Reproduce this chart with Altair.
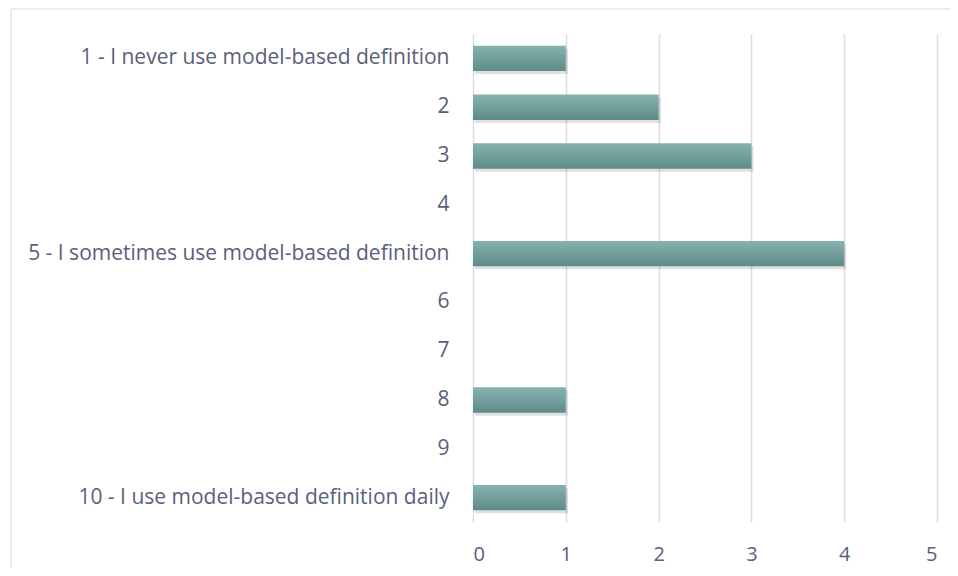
import altair as alt
import pandas as pd

categories = [
    "1 - I never use model-based definition",
    "2",
    "3",
    "4",
    "5 - I sometimes use model-based definition",
    "6",
    "7",
    "8",
    "9",
    "10 - I use model-based definition daily",
]
counts = [1, 2, 3, 0, 4, 0, 0, 1, 0, 1]
x_ticks = [0, 1, 2, 3, 4, 5]

df = pd.DataFrame({"cat": categories, "n": counts})

W, H = 464, 488
PL, PT = 465, 26

text_color = "#5b607a"
font = "Open Sans"

x_enc = alt.X("n:Q", scale=alt.Scale(domain=[0, 5]),
              axis=alt.Axis(values=x_ticks, title=None, domain=False, ticks=False,
                            grid=True, gridColor="#dcdce4", gridWidth=1.5,
                            labelFont=font, labelFontSize=20, labelColor=text_color,
                            labelPadding=22, format="d"))
y_enc = alt.Y("cat:N", sort=categories, scale=alt.Scale(paddingInner=0.48, paddingOuter=0.24),
              axis=alt.Axis(title=None, domain=False, ticks=False, grid=False,
                            labelFont=font, labelFontSize=21, labelColor=text_color,
                            labelPadding=24, labelLimit=460))

grad = alt.Gradient(gradient="linear",
                    stops=[alt.GradientStop(color="#85b3af", offset=0),
                           alt.GradientStop(color="#5e8b88", offset=1)],
                    x1=0, x2=0, y1=0, y2=1)

shadow = alt.Chart(df).mark_bar(color="#000000", opacity=0.12, yOffset=3, xOffset=2).encode(
    x=x_enc, y=y_enc)
bars = alt.Chart(df).mark_bar(color=grad).encode(x=x_enc, y=y_enc)

frame = alt.Chart(pd.DataFrame({"a": [0]})).mark_rect(
    fill=None, stroke="#d9d9d9", strokeWidth=1).encode(
    x=alt.value(-PL + 3), x2=alt.value(W + 520), y=alt.value(-PT + 1), y2=alt.value(H + 100))

chart = alt.layer(frame, shadow, bars).properties(
    width=W, height=H,
    autosize=alt.AutoSizeParams(type="none"),
    padding={"left": PL, "top": PT, "right": 942 - PL - W, "bottom": 560 - PT - H},
).configure(background="white").configure_view(stroke=None)

chart.save("out.html", embed_options={"renderer": "svg", "actions": False})
